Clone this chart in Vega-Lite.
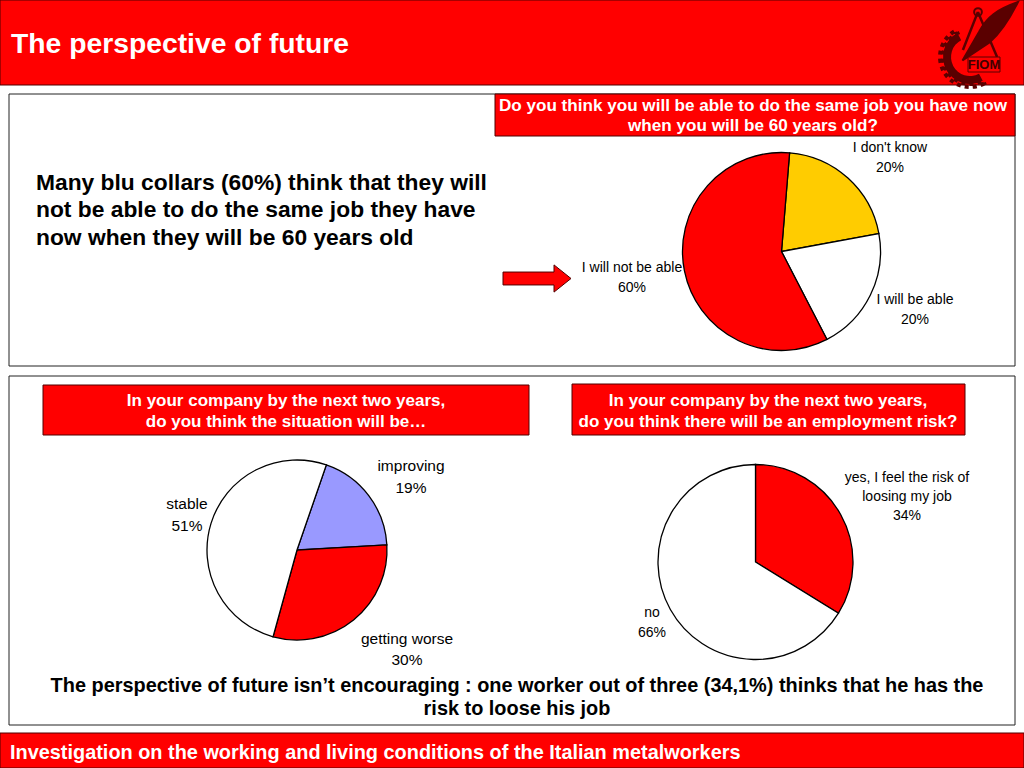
{
"$schema":"https://vega.github.io/schema/vega-lite/v6.json",
"width":1024,"height":768,"padding":0,"autosize":{"type":"none"},
"background":"white",
"config":{"view":{"stroke":null},"axis":{"disable":true},"text":{"font":"Liberation Sans"}},
"datasets":{
"q1":[{"answer":"I don't know","share":20.8,"seq":1,"label":"I don't know\n20%"},{"answer":"I will be able","share":20.3,"seq":2,"label":"I will be able\n20%"},{"answer":"I will not be able","share":58.9,"seq":3,"label":"I will not be able\n60%"}],
"q2":[{"answer":"improving","share":18.8,"seq":1,"label":"improving\n19%"},{"answer":"getting worse","share":30.2,"seq":2,"label":"getting worse\n30%"},{"answer":"stable","share":51.0,"seq":3,"label":"stable\n51%"}],
"q3":[{"answer":"yes","share":33.8,"seq":1,"label":"yes, I feel the risk of\nloosing my job\n34%"},{"answer":"no","share":66.2,"seq":2,"label":"no\n66%"}]
},
"data":{"values":[{"slide":"The perspective of future"}]},
"resolve":{"scale":{"theta":"independent"}},
"layer":[
{"mark":{"type":"rect","fill":"#ff0000","stroke":"#500000","strokeWidth":1},"encoding":{"x":{"datum":0,"scale":{"domain":[0,1024],"nice":false,"zero":false}},"x2":{"datum":1024},"y":{"datum":0,"scale":{"domain":[0,768],"reverse":true,"nice":false,"zero":false}},"y2":{"datum":85}}},
{"mark":{"type":"rect","fill":"#ff0000","stroke":"#500000","strokeWidth":1},"encoding":{"x":{"datum":0},"x2":{"datum":1024},"y":{"datum":733},"y2":{"datum":768}}},
{"mark":{"type":"rect","fill":"#ffffff","stroke":"#222222","strokeWidth":1},"encoding":{"x":{"datum":9},"x2":{"datum":1015},"y":{"datum":94},"y2":{"datum":366}}},
{"mark":{"type":"rect","fill":"#ffffff","stroke":"#222222","strokeWidth":1},"encoding":{"x":{"datum":9},"x2":{"datum":1015},"y":{"datum":376},"y2":{"datum":725}}},
{"mark":{"type":"rect","fill":"#ff0000","stroke":"#500000","strokeWidth":1},"encoding":{"x":{"datum":495},"x2":{"datum":1015},"y":{"datum":94},"y2":{"datum":136}}},
{"mark":{"type":"rect","fill":"#ff0000","stroke":"#500000","strokeWidth":1},"encoding":{"x":{"datum":43},"x2":{"datum":529},"y":{"datum":385},"y2":{"datum":435}}},
{"mark":{"type":"rect","fill":"#ff0000","stroke":"#500000","strokeWidth":1},"encoding":{"x":{"datum":572},"x2":{"datum":965},"y":{"datum":384},"y2":{"datum":435}}},
{"mark":{"type":"text","fontWeight":"bold","fontSize":28.3,"color":"white","align":"left","baseline":"middle"},"encoding":{"x":{"datum":11},"y":{"datum":45},"text":{"field":"slide"}}},
{"mark":{"type":"text","fontWeight":"bold","fontSize":19.9,"color":"white","align":"left","baseline":"middle"},"encoding":{"x":{"datum":10},"y":{"datum":753},"text":{"value":"Investigation on the working and living conditions of the Italian metalworkers"}}},
{"mark":{"type":"text","fontWeight":"bold","fontSize":17.1,"color":"white","align":"center","baseline":"middle","lineBreak":"\n","lineHeight":20},"encoding":{"x":{"datum":753},"y":{"datum":106},"text":{"value":"Do you think you will be able to do the same job you have now\nwhen you will be 60 years old?"}}},
{"mark":{"type":"text","fontWeight":"bold","fontSize":17,"color":"white","align":"center","baseline":"middle","lineBreak":"\n","lineHeight":21},"encoding":{"x":{"datum":286},"y":{"datum":401},"text":{"value":"In your company by the next two years,\ndo you think the situation will be…"}}},
{"mark":{"type":"text","fontWeight":"bold","fontSize":17,"color":"white","align":"center","baseline":"middle","lineBreak":"\n","lineHeight":21},"encoding":{"x":{"datum":768},"y":{"datum":401},"text":{"value":"In your company by the next two years,\ndo you think there will be an employment risk?"}}},
{"mark":{"type":"text","fontWeight":"bold","fontSize":22.8,"color":"black","align":"left","baseline":"middle","lineBreak":"\n","lineHeight":27.5},"encoding":{"x":{"datum":36},"y":{"datum":182.5},"text":{"value":"Many blu collars (60%) think that they will\nnot be able to do the same job they have\nnow when they will be 60 years old"}}},
{"mark":{"type":"text","fontWeight":"bold","fontSize":19.9,"color":"black","align":"center","baseline":"middle","lineBreak":"\n","lineHeight":23},"encoding":{"x":{"datum":517},"y":{"datum":686},"text":{"value":"The perspective of future isn’t encouraging : one worker out of three (34,1%) thinks that he has the\nrisk to loose his job"}}},
{"mark":{"type":"point","shape":"M-1,-0.19 L0.5,-0.19 L0.5,-0.4 L1,0 L0.5,0.4 L0.5,0.19 L-1,0.19 Z","size":4624,"filled":true,"fill":"#ff0000","stroke":"#500000","strokeWidth":1,"opacity":1},"encoding":{"x":{"datum":537},"y":{"datum":278.5}}},
{"data":{"name":"q1"},"mark":{"type":"arc","radius":99,"stroke":"black","strokeWidth":1.3},"encoding":{"x":{"datum":781.5},"y":{"datum":251.5},"theta":{"field":"share","type":"quantitative","scale":{"range":[0.082,6.365]}},"order":{"field":"seq"},"color":{"field":"answer","type":"nominal","legend":null,"scale":{"domain":["I don't know","I will be able","I will not be able","improving","getting worse","stable","yes","no"],"range":["#ffcc00","#ffffff","#ff0000","#9999ff","#ff0000","#ffffff","#ff0000","#ffffff"]}}}},
{"data":{"name":"q2"},"mark":{"type":"arc","radius":90,"stroke":"black","strokeWidth":1.3},"encoding":{"x":{"datum":297},"y":{"datum":550},"theta":{"field":"share","type":"quantitative","scale":{"range":[0.332,6.615]}},"order":{"field":"seq"},"color":{"field":"answer","type":"nominal","legend":null}}},
{"data":{"name":"q3"},"mark":{"type":"arc","radius":97.5,"stroke":"black","strokeWidth":1.3},"encoding":{"x":{"datum":755.5},"y":{"datum":562},"theta":{"field":"share","type":"quantitative","scale":{"range":[0,6.2832]}},"order":{"field":"seq"},"color":{"field":"answer","type":"nominal","legend":null}}},
{"data":{"name":"q1"},"transform":[{"filter":"datum.seq===1"}],"mark":{"type":"text","fontSize":14,"color":"black","align":"center","baseline":"middle","lineBreak":"\n","lineHeight":20},"encoding":{"x":{"datum":890},"y":{"datum":147.5},"text":{"field":"label"}}},
{"data":{"name":"q1"},"transform":[{"filter":"datum.seq===2"}],"mark":{"type":"text","fontSize":14,"color":"black","align":"center","baseline":"middle","lineBreak":"\n","lineHeight":20},"encoding":{"x":{"datum":915},"y":{"datum":299.5},"text":{"field":"label"}}},
{"data":{"name":"q1"},"transform":[{"filter":"datum.seq===3"}],"mark":{"type":"text","fontSize":14,"color":"black","align":"center","baseline":"middle","lineBreak":"\n","lineHeight":20},"encoding":{"x":{"datum":632},"y":{"datum":267.5},"text":{"field":"label"}}},
{"data":{"name":"q2"},"transform":[{"filter":"datum.seq===1"}],"mark":{"type":"text","fontSize":15.5,"color":"black","align":"center","baseline":"middle","lineBreak":"\n","lineHeight":22},"encoding":{"x":{"datum":411},"y":{"datum":465.5},"text":{"field":"label"}}},
{"data":{"name":"q2"},"transform":[{"filter":"datum.seq===2"}],"mark":{"type":"text","fontSize":15.5,"color":"black","align":"center","baseline":"middle","lineBreak":"\n","lineHeight":21},"encoding":{"x":{"datum":407},"y":{"datum":638.5},"text":{"field":"label"}}},
{"data":{"name":"q2"},"transform":[{"filter":"datum.seq===3"}],"mark":{"type":"text","fontSize":15.5,"color":"black","align":"center","baseline":"middle","lineBreak":"\n","lineHeight":22},"encoding":{"x":{"datum":187},"y":{"datum":503.5},"text":{"field":"label"}}},
{"data":{"name":"q3"},"transform":[{"filter":"datum.seq===1"}],"mark":{"type":"text","fontSize":14,"color":"black","align":"center","baseline":"middle","lineBreak":"\n","lineHeight":19},"encoding":{"x":{"datum":907},"y":{"datum":477.5},"text":{"field":"label"}}},
{"data":{"name":"q3"},"transform":[{"filter":"datum.seq===2"}],"mark":{"type":"text","fontSize":14,"color":"black","align":"center","baseline":"middle","lineBreak":"\n","lineHeight":20},"encoding":{"x":{"datum":652},"y":{"datum":612.5},"text":{"field":"label"}}},
{"mark":{"type":"arc","radius":27,"radius2":19,"theta":2.65,"theta2":5.8,"fill":"#5a0000"},"encoding":{"x":{"datum":970},"y":{"datum":57}}},
{"mark":{"type":"arc","radius":30,"radius2":27,"theta":2.65,"theta2":5.8,"fill":"none","stroke":"#5a0000","strokeWidth":4,"strokeDash":[4,4]},"encoding":{"x":{"datum":970},"y":{"datum":57}}},
{"mark":{"type":"point","shape":"M1,-1 C0.3,-0.75 -0.05,-0.5 -0.3,0 L-0.85,0.95 L0.05,0.35 C0.45,0 0.75,-0.5 1,-1 Z","size":3600,"filled":true,"fill":"#5a0000","stroke":"#5a0000","opacity":1},"encoding":{"x":{"datum":988},"y":{"datum":32}}},
{"mark":{"type":"point","shape":"M-0.07,-0.77 L-0.57,0.5 M-0.07,-0.77 L0.57,0.73","size":3600,"filled":false,"stroke":"#5a0000","strokeWidth":2.5,"opacity":1},"encoding":{"x":{"datum":980},"y":{"datum":35}}},
{"mark":{"type":"point","shape":"circle","size":60,"filled":false,"stroke":"#5a0000","strokeWidth":2,"opacity":1},"encoding":{"x":{"datum":978},"y":{"datum":12}}},
{"mark":{"type":"rect","fill":"#ff0000","stroke":"#5a0000","strokeWidth":1},"encoding":{"x":{"datum":968},"x2":{"datum":1000},"y":{"datum":57},"y2":{"datum":72}}},
{"mark":{"type":"text","fontWeight":"bold","fontSize":13,"color":"#400000","align":"center","baseline":"middle"},"encoding":{"x":{"datum":984},"y":{"datum":65},"text":{"value":"FIOM"}}}
]
}
